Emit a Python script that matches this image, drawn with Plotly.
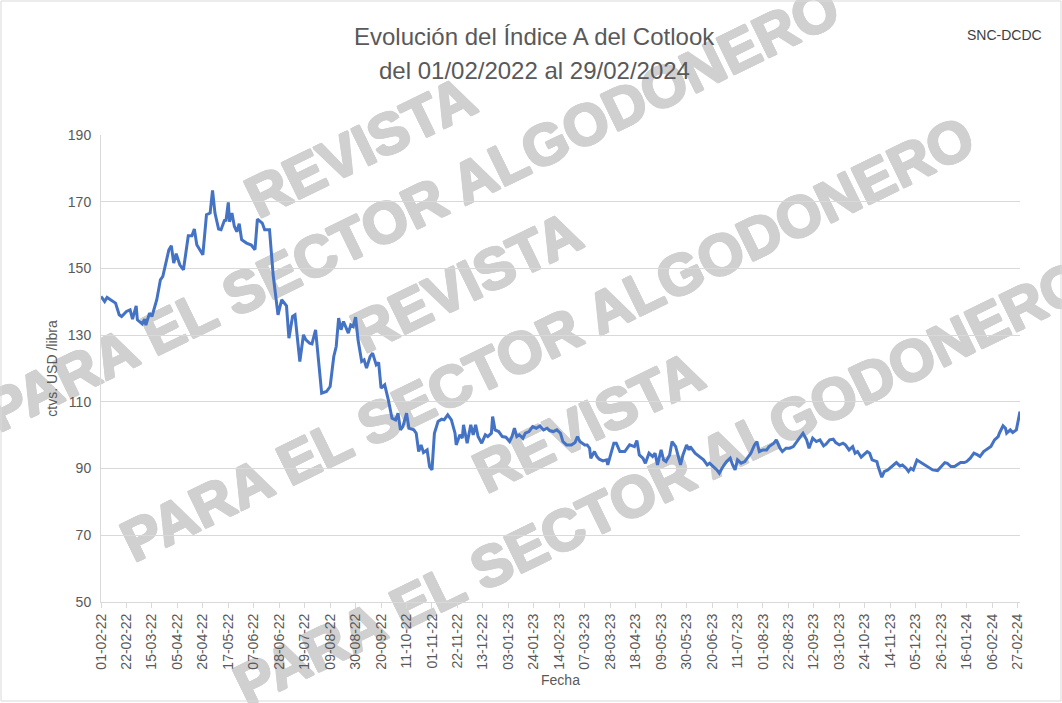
import pandas as pd
import plotly.graph_objects as go

# ---------------- data ----------------
INICIO = "2022-02-01"
FIN = "2024-02-29"

dias = [0, 3, 5, 7, 12, 15, 17, 21, 24, 26, 29, 30, 34, 36, 37, 40, 42, 46, 49, 51,
        56, 58, 60, 62, 65, 68, 72, 75, 77, 79, 84, 87, 90, 92, 94, 97, 99, 102, 103, 105,
        106, 108, 110, 112, 114, 116, 120, 124, 127, 129, 133, 135, 139,
        142, 144, 146, 149, 153, 155, 158, 160, 164, 167, 169, 172, 174, 177, 180, 182, 186,
        189, 192, 194, 196, 198, 200, 204, 206, 208, 210, 212, 215, 217, 219, 222, 224, 227,
        229, 231, 234, 237, 240, 243, 245, 247, 249, 252, 254, 258, 260, 262, 264, 266, 269,
        271, 273, 275, 278, 281, 283, 286,
        289, 292, 293, 296, 298, 299, 302, 305, 307, 309, 311, 314, 317, 319, 322, 323, 325,
        328, 331, 334, 337, 339, 341, 343, 345, 348, 350, 353, 356, 359, 362, 365, 368, 370,
        373, 376, 379, 381, 384, 388, 391, 393, 395, 399, 401, 403, 404, 407, 409, 411, 414,
        417, 418, 421, 423, 425, 428, 432,
        436, 440, 442, 444, 447, 449, 452, 455, 457, 459, 462, 464, 466, 469, 471, 474, 476,
        478, 480, 483, 485, 486, 490, 494, 497, 500, 502, 505, 508, 510, 513, 516, 519, 521,
        523, 525, 528, 531, 533, 536, 539, 541, 543, 546, 549, 551, 555, 557, 560, 562, 565,
        568, 571, 573, 576, 579, 582, 584, 587, 590, 593,
        596, 598, 601, 604, 606, 609, 612, 614, 617, 620, 622, 624, 627, 629, 632, 634, 636,
        640, 641, 644, 646, 649, 652, 654, 656, 659, 661, 664, 666, 668, 670, 673, 675, 678,
        680, 683, 686, 690, 693, 696, 698, 701, 704, 706, 709, 712, 714, 717, 720, 723, 725,
        728, 731, 734, 737, 740, 741, 744, 746, 747, 750, 752, 755, 758]

valores = [141.6, 140.1, 141.3, 140.8, 139.6, 136.1, 135.6, 137.1, 137.6, 134.8, 138.8, 134.6,
           133.4, 134.8, 133.0, 136.6, 135.6, 140.6, 146.6, 147.6,
           155.6, 156.8, 151.6, 154.4, 151.1, 149.6, 159.8, 159.8, 161.8, 157.1, 154.1, 166.1,
           166.6, 173.4, 166.6, 161.8, 161.6, 164.6, 164.1, 169.8,
           164.0, 166.6, 162.6, 161.0, 163.4, 158.6, 157.6, 157.0, 155.6, 164.8, 163.6, 161.6, 161.6,
           148.0, 141.6, 136.1, 140.6, 138.8, 129.1, 135.6, 136.1, 122.1, 130.1, 128.6, 127.6,
           127.4, 131.6, 120.6, 112.6, 113.1,
           114.6, 123.6, 126.6, 135.1, 131.6, 134.1, 130.6, 133.1, 132.6, 135.4, 128.6, 122.1,
           122.6, 120.1, 123.6, 124.6, 121.1,
           121.8, 114.1, 115.1, 110.6, 105.1, 104.6, 106.6, 101.6, 102.6, 106.6, 102.1, 101.6,
           100.6, 95.1, 97.1, 94.8, 95.6,
           90.6, 89.6, 100.6, 104.1, 104.8, 104.6, 106.1,
           104.6, 100.6, 97.1, 100.1, 99.1, 103.1, 97.6, 103.1, 100.1, 103.1, 99.6, 97.6, 100.1,
           99.6, 100.6, 105.6, 101.6,
           101.1, 99.6, 99.4, 98.1, 99.6, 102.1, 99.6, 100.1, 99.1, 100.6, 101.1, 102.6, 102.1,
           102.8, 101.6, 102.1, 101.4,
           101.1, 101.6, 100.6, 98.1, 97.1, 97.1, 97.8, 99.6, 98.1, 97.1, 97.1, 96.1, 93.1, 95.1,
           93.6, 92.8, 92.3,
           92.6, 91.1, 94.6, 97.6, 97.6, 95.1, 95.1,
           97.1, 96.6, 98.4, 94.1, 93.1, 91.6, 94.6, 93.6, 94.6, 91.1, 95.6, 92.6, 92.1, 94.1,
           98.1, 96.6, 93.6,
           91.1, 94.1, 97.1, 95.6, 96.6, 94.6, 93.6, 92.6, 91.1, 91.6, 90.6, 89.6, 88.6, 90.6,
           92.1, 93.1, 91.1,
           89.6, 92.6, 91.6, 92.1, 93.1, 94.6, 97.1, 98.1, 95.1, 95.6, 95.6, 96.6, 97.6, 98.6,
           96.1, 95.1, 96.1,
           96.1, 96.6, 97.6, 98.8, 100.6, 98.6, 96.1, 99.1, 98.1, 98.6,
           96.8, 97.3, 98.6, 98.8, 97.8, 97.1, 97.6, 97.1, 95.6, 96.6, 94.6, 95.1, 93.4, 94.1,
           95.1, 94.6, 92.6,
           92.1, 90.6, 87.4, 89.1, 89.6, 90.6, 91.1, 91.8, 90.8, 91.1, 90.1, 89.1, 90.1, 89.6,
           92.6, 92.1, 91.6,
           91.1, 90.1, 89.6, 89.4, 90.6, 91.8, 91.6, 90.6, 90.6, 91.1, 91.8, 91.8, 92.1, 93.1,
           94.6, 94.1, 93.6,
           95.1, 95.8, 96.6, 98.6, 99.6, 100.6, 102.8, 102.1, 100.6, 101.6, 100.8, 101.6, 107.1]

y_ticks = [50, 70, 90, 110, 130, 150, 170, 190]
titulo_l1 = "Evolución del Índice A del Cotlook"
titulo_l2 = "del 01/02/2022 al 29/02/2024"
fuente = "SNC-DCDC"
eje_x = "Fecha"
eje_y = "ctvs. USD /libra"
marca_1 = "REVISTA"
marca_2 = "PARA EL SECTOR ALGODONERO"

fechas = pd.to_datetime(INICIO) + pd.to_timedelta(dias, unit="D")

# ---------------- layout geometry (pixels) ----------------
W, H = 1062, 703
L, R, T, B = 101, 1020, 135, 602
PW, PH = R - L, B - T


def px2paper(px, py):
    return (px - L) / PW, (B - py) / PH


FONT = "Liberation Sans, Arial, sans-serif"
GRIS = "#595959"
WM = "#d0d0d0"
WM_SHADOW = ", ".join(f"{dx}px {dy}px 0 {WM}" for dx, dy in
                      ((1, 0), (-1, 0), (0, 1), (0, -1), (1, 1), (-1, -1), (1, -1), (-1, 1)))

fig = go.Figure()
fig.add_trace(go.Scatter(x=fechas, y=valores, mode="lines",
                         line=dict(color="#4472C4", width=3),
                         showlegend=False))

# watermark (drawn below the data)
wm_centres = [((358, 142), (410, 204)),
              ((464, 277), (545, 334)),
              ((586, 417), (658, 478))]
shapes = []
for (c1, c2) in wm_centres:
    for (cx, cy), txt in ((c1, marca_1), (c2, marca_2)):
        x, y = px2paper(cx, cy)
        shapes.append(dict(type="rect", xref="paper", yref="paper",
                           x0=x - 0.005, x1=x + 0.005, y0=y - 0.005, y1=y + 0.005,
                           line=dict(width=0), fillcolor="rgba(0,0,0,0)", layer="below",
                           label=dict(text=txt, textangle=-26, textposition="middle center",
                                      font=dict(family=FONT, size=58, color=WM,
                                                weight="bold", shadow=WM_SHADOW))))

# outer chart border
bx0, by0 = px2paper(1, 701)
bx1, by1 = px2paper(1061, 1)
shapes.append(dict(type="rect", xref="paper", yref="paper", x0=bx0, x1=bx1, y0=by0, y1=by1,
                   line=dict(color="#d9d9d9", width=1), fillcolor="rgba(0,0,0,0)", layer="above"))

annotations = []
for txt, py in ((titulo_l1, 37), (titulo_l2, 70)):
    ax, ay = px2paper(534, py)
    annotations.append(dict(text=txt, xref="paper", yref="paper", x=ax, y=ay,
                            xanchor="center", yanchor="middle", showarrow=False,
                            font=dict(family=FONT, size=24, color=GRIS)))
sx, sy = px2paper(1004, 35)
annotations.append(dict(text=fuente, xref="paper", yref="paper", x=sx, y=sy,
                        xanchor="center", yanchor="middle", showarrow=False,
                        font=dict(family=FONT, size=14, color="#404040")))

fig.update_layout(
    width=W, height=H,
    margin=dict(l=L, r=W - R, t=T, b=H - B, autoexpand=False),
    paper_bgcolor="white", plot_bgcolor="rgba(0,0,0,0)",
    font=dict(family=FONT, color=GRIS, size=14),
    shapes=shapes,
    annotations=annotations,
)

fig.update_xaxes(
    range=[INICIO, FIN], type="date",
    tickmode="linear", tick0=INICIO, dtick=21 * 86400000,
    tickformat="%d-%m-%y", tickangle=-90,
    ticks="outside", ticklen=5, tickcolor="#d9d9d9",
    showline=True, linecolor="#d9d9d9", linewidth=1,
    showgrid=False, zeroline=False,
    tickfont=dict(size=14, color=GRIS),
    title=dict(text=eje_x, standoff=6, font=dict(size=14, color=GRIS)),
)
fig.update_yaxes(
    range=[50, 190], tickmode="array", tickvals=y_ticks,
    showgrid=True, gridcolor="#d9d9d9", gridwidth=1,
    showline=True, linecolor="#d9d9d9", linewidth=1,
    ticks="", zeroline=False,
    tickfont=dict(size=14, color=GRIS), ticklabelstandoff=6,
    title=dict(text=eje_y, standoff=6, font=dict(size=14, color=GRIS)),
)

fig.write_html("out.html", config={"displayModeBar": False},
               post_script="document.body.style.margin='0px';document.body.style.padding='0px';")
